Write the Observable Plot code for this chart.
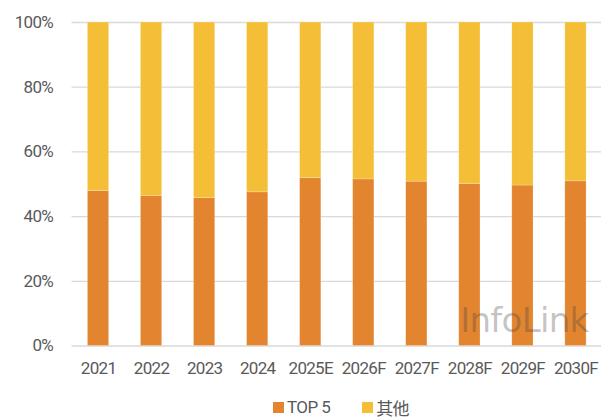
<!DOCTYPE html>
<html>
<head>
<meta charset="utf-8">
<script src="https://cdn.jsdelivr.net/npm/d3@7"></script>
<script src="https://cdn.jsdelivr.net/npm/@observablehq/plot@0.6"></script>
<style>
  html, body { margin: 0; padding: 0; background: #fff; }
  #chart { width: 601px; }
  .legend { display: flex; justify-content: center; align-items: center; gap: 32px;
    font-family: Roboto, "Noto Sans CJK SC", sans-serif; font-size: 17px; color: #595959; letter-spacing: -0.6px;
    height: 32px; padding-left: 81px; padding-top: 12px; box-sizing: border-box; width: 601px; }
  .legend span.item { display: flex; align-items: center; }
  .legend i { display: inline-block; width: 11px; height: 11px; margin-right: 3px; }
</style>
</head>
<body>
<div id="chart"></div>
<script>
const years = ["2021", "2022", "2023", "2024", "2025E", "2026F", "2027F", "2028F", "2029F", "2030F"];
const top5 = [47.9, 46.4, 45.7, 47.5, 51.9, 51.5, 50.8, 50.0, 49.6, 50.9];
const others = [52.1, 53.6, 54.3, 52.5, 48.1, 48.5, 49.2, 50.0, 50.4, 49.1];
const seriesNames = ["TOP 5", "其他"];
const seriesColors = ["#E3852F", "#F4BE37"];
const yTicks = [0, 20, 40, 60, 80, 100];

const data = [];
years.forEach((y, i) => {
  data.push({year: y, series: seriesNames[0], value: top5[i]});
  data.push({year: y, series: seriesNames[1], value: others[i]});
});

const plot = Plot.plot({
  width: 601,
  height: 385,
  marginTop: 22,
  marginBottom: 39.5,
  marginLeft: 71.5,
  marginRight: -1,
  style: { fontFamily: "Roboto, 'Noto Sans CJK SC', sans-serif", fontSize: "17px", color: "#595959", background: "#fff", letterSpacing: "-0.7px" },
  x: { domain: years, paddingInner: 0.6, paddingOuter: 0.3, round: false, label: null, tickSize: 0, tickPadding: 16 },
  y: { domain: [0, 100], ticks: yTicks, tickFormat: d => d + "%", label: null, tickSize: 0, tickPadding: 19 },
  color: { domain: seriesNames, range: seriesColors },
  marks: [
    Plot.ruleY(yTicks, { stroke: "#d9d9d9", strokeWidth: 1.3 }),
    Plot.barY(data, { x: "year", y: "value", fill: "series", order: seriesNames, stroke: "#fff", strokeOpacity: 0.35, strokeWidth: 0.6 }),
    Plot.text(["InfoLink"], { frameAnchor: "bottom-right", text: d => d, textAnchor: "end", lineAnchor: "bottom", dx: -14, dy: -14,
      fontSize: 34, fontFamily: "'DejaVu Sans', sans-serif", fill: "#444", fillOpacity: 0.33, style: "letter-spacing:0.5px" })
  ]
});
document.getElementById("chart").appendChild(plot);

const legend = document.createElement("div");
legend.className = "legend";
seriesNames.forEach((n, i) => {
  const s = document.createElement("span");
  s.className = "item";
  s.innerHTML = `<i style="background:${seriesColors[i]}"></i>${n}`;
  legend.appendChild(s);
});
document.getElementById("chart").appendChild(legend);
</script>
</body>
</html>
